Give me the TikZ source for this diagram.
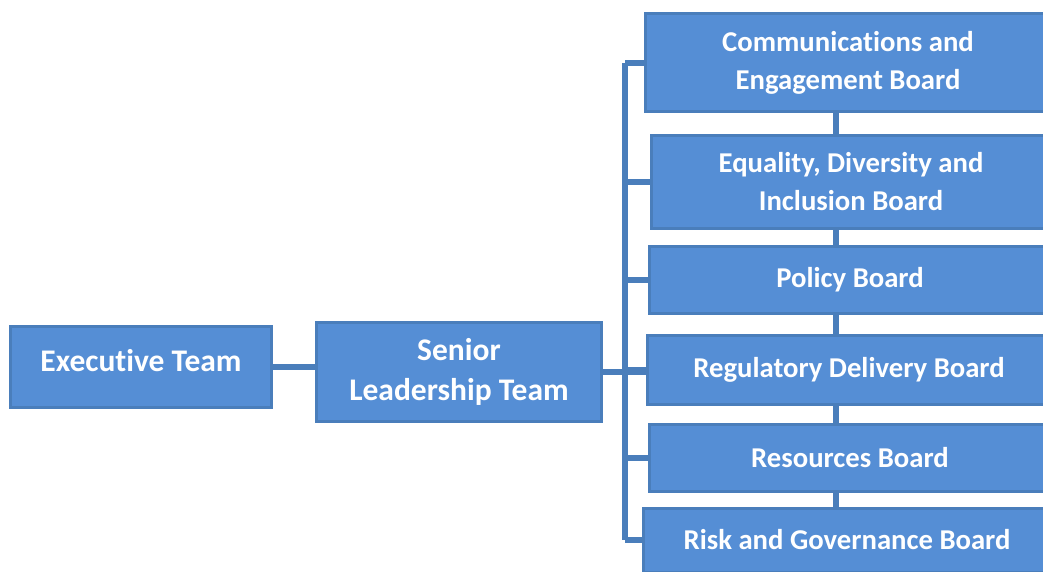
\documentclass[tikz,border=0pt]{standalone}
\usepackage{fontspec}
\setmainfont{Carlito}[Ligatures={NoCommon}]
\definecolor{boxfill}{HTML}{558ED5}
\definecolor{boxline}{HTML}{4A7EBB}
\begin{document}
\begin{tikzpicture}[x=1pt,y=-1pt,
  orgbox/.style={draw=boxline, line width=3pt, fill=boxfill, text=white,
    font=\fontsize{31.5}{40}\selectfont\bfseries, align=center, inner sep=0pt},
  board/.style={orgbox, font=\fontsize{28.7}{38}\selectfont\bfseries},
  link/.style={draw=boxline, line width=5.5pt}]
\useasboundingbox (0,0) rectangle (1043,572);
\node[orgbox, minimum width=261pt, minimum height=81pt, text depth=14pt] (exec) at (141,367) {Executive Team};
\node[orgbox, minimum width=285pt, minimum height=99pt] (slt) at (459,372) {Senior\\Leadership Team};
\node[board, minimum width=406pt, minimum height=98pt] (comms) at (848,63) {Communications and\\Engagement Board};
\node[board, minimum width=400pt, minimum height=92pt] (edi) at (851,182) {Equality, Diversity and\\Inclusion Board};
\node[board, minimum width=402pt, minimum height=67pt] (policy) at (850,280) {Policy Board};
\node[board, minimum width=403pt, minimum height=69pt] (reg) at (849,370) {Regulatory Delivery Board};
\node[board, minimum width=402pt, minimum height=67pt] (res) at (850,458) {Resources Board};
\node[board, minimum width=408pt, minimum height=64pt] (risk) at (847,540) {Risk and Governance Board};
\coordinate (spine) at (625,0);
\coordinate (cx) at (836,0);
\draw[link] (exec.east) -- (exec.east -| slt.west);
\draw[link] (slt.east) -- (slt.east -| reg.west);
\draw[link] (comms.west -| spine) -- (risk.west -| spine);
\foreach \b in {comms,edi,policy,reg,res,risk}
  \draw[link] (\b.west -| spine) -- (\b.west);
\draw[link] (comms.south -| cx) -- (edi.north -| cx);
\draw[link] (edi.south -| cx) -- (policy.north -| cx);
\draw[link] (policy.south -| cx) -- (reg.north -| cx);
\draw[link] (reg.south -| cx) -- (res.north -| cx);
\draw[link] (res.south -| cx) -- (risk.north -| cx);
\end{tikzpicture}
\end{document}
